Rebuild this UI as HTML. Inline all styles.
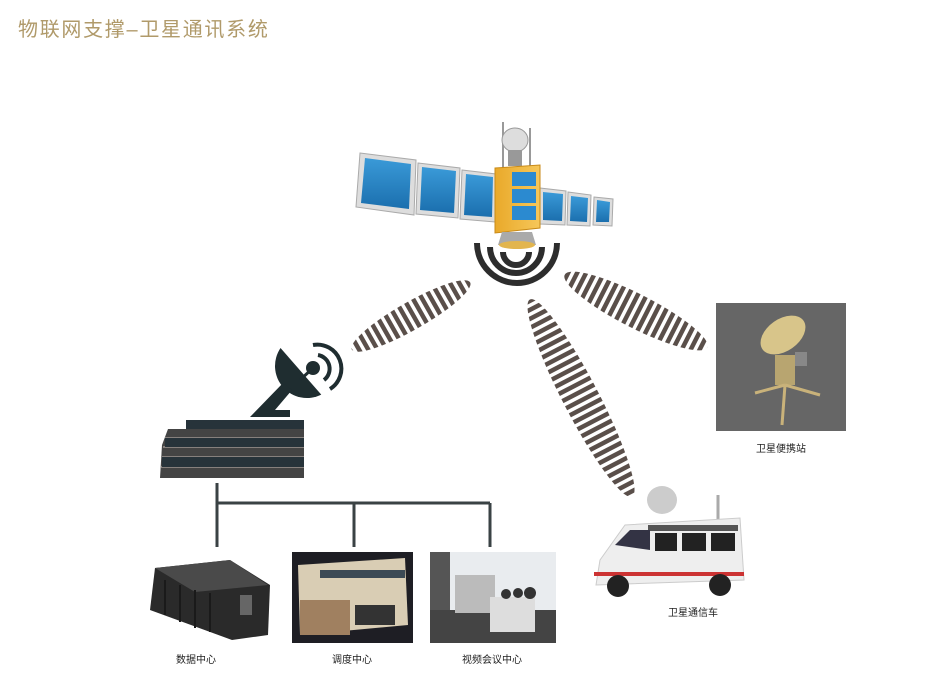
<!DOCTYPE html>
<html><head><meta charset="utf-8"><style>
html,body{margin:0;padding:0;background:#fff;}
body{width:944px;height:680px;position:relative;overflow:hidden;font-family:"Liberation Sans","Noto Sans CJK SC",sans-serif;}
.t{position:absolute;left:18px;top:13px;font-size:20px;color:#b09a6a;letter-spacing:1.7px;font-family:"Liberation Sans","Noto Sans CJK SC",sans-serif;}
.lb{position:absolute;font-size:10px;color:#222;transform:translateX(-50%);white-space:nowrap;}
</style></head><body>
<div class="t">物联网支撑–卫星通讯系统</div>
<svg width="944" height="680" style="position:absolute;left:0;top:0">
<defs>
<pattern id="st" width="8" height="10" patternUnits="userSpaceOnUse"><rect width="4.5" height="10" fill="#5a4f4a"/></pattern>
<linearGradient id="sp" x1="0" y1="0" x2="0" y2="1"><stop offset="0" stop-color="#3a9ad8"/><stop offset="1" stop-color="#1b6fae"/></linearGradient>
<linearGradient id="gd" x1="0" y1="0" x2="1" y2="0"><stop offset="0" stop-color="#e9a92a"/><stop offset="1" stop-color="#f6c75a"/></linearGradient>
</defs>
<!-- beams -->
<g transform="translate(411,316) rotate(-29.6)"><ellipse cx="0" cy="0" rx="68" ry="14" fill="url(#st)"/></g>
<g transform="translate(581,398) rotate(62.6)"><ellipse cx="0" cy="0" rx="111" ry="18" fill="url(#st)"/></g>
<g transform="translate(636,311) rotate(27)"><ellipse cx="0" cy="0" rx="80" ry="17" fill="url(#st)"/></g>
<!-- satellite -->
<line x1="503" y1="122" x2="503" y2="170" stroke="#999" stroke-width="2"/>
<line x1="530" y1="128" x2="530" y2="170" stroke="#999" stroke-width="2"/>
<ellipse cx="515" cy="140" rx="13" ry="12" fill="#ddd" stroke="#999"/>
<rect x="508" y="150" width="14" height="16" fill="#999"/>
<polygon points="360,153 416,160 414,215 356,207" fill="#ddd" stroke="#aaa"/>
<polygon points="365,158 411,164 409,209 361,203" fill="url(#sp)"/>
<polygon points="418,163 460,168 458,218 416,214" fill="#ddd" stroke="#aaa"/>
<polygon points="422,167 456,171 454,213 420,210" fill="url(#sp)"/>
<polygon points="462,170 496,174 495,222 460,219" fill="#ddd" stroke="#aaa"/>
<polygon points="466,174 493,177 492,217 464,215" fill="url(#sp)"/>
<polygon points="540,188 566,191 565,225 540,224" fill="#ddd" stroke="#aaa"/>
<polygon points="543,192 563,194 562,221 543,220" fill="url(#sp)"/>
<polygon points="568,192 591,195 590,226 567,225" fill="#ddd" stroke="#aaa"/>
<polygon points="571,196 588,198 587,222 570,221" fill="url(#sp)"/>
<polygon points="594,197 613,199 612,226 593,225" fill="#ddd" stroke="#aaa"/>
<polygon points="597,200 610,202 609,222 596,222" fill="url(#sp)"/>
<polygon points="495,168 540,165 540,228 495,233" fill="url(#gd)" stroke="#c88a18"/>
<rect x="512" y="172" width="24" height="14" fill="#2b8ad0"/>
<rect x="512" y="189" width="24" height="14" fill="#2b8ad0"/>
<rect x="512" y="206" width="24" height="14" fill="#2b8ad0"/>
<polygon points="502,232 532,232 536,245 498,245" fill="#aaa"/>
<ellipse cx="517" cy="245" rx="18" ry="4" fill="#e2b54e"/>
<!-- arcs -->
<g fill="none" stroke="#2d2d2d" stroke-width="6">
<path d="M503,252 A13,13 0 0 0 529,252"/>
<path d="M490,247 A26,26 0 0 0 542,247"/>
<path d="M477,243 A40,40 0 0 0 557,243"/>
</g>
<!-- ground dish -->
<g fill="#1f2d30">
<path d="M285,345 A32,32 0 0 0 317,398 Z" transform="rotate(-10 300 372)"/>
<polygon points="250,417 283,383 292,390 275,410 290,410 290,417"/>
<circle cx="313" cy="368" r="7"/>
<line x1="300" y1="380" x2="313" y2="368" stroke="#1f2d30" stroke-width="3"/>
</g>
<g fill="none" stroke="#1f2d30" stroke-width="4">
<path d="M318,355 A14,14 0 0 1 324,380"/>
<path d="M313,345 A24,24 0 0 1 330,389"/>
</g>
<!-- building -->
<rect x="186" y="420" width="118" height="9" fill="#27333a"/>
<polygon points="168,429 304,429 304,478 160,478 162,445" fill="#444"/>
<g stroke="#c9bdb6" stroke-width="1"><line x1="165" y1="438" x2="304" y2="438"/><line x1="163" y1="447" x2="304" y2="447"/><line x1="162" y1="457" x2="304" y2="457"/><line x1="161" y1="467" x2="304" y2="467"/></g>
<rect x="165" y="438" width="139" height="9" fill="#27333a"/>
<rect x="162" y="457" width="142" height="10" fill="#27333a"/>
<!-- connectors -->
<g stroke="#3a4244" stroke-width="3" fill="none">
<line x1="217" y1="483" x2="217" y2="547"/>
<line x1="217" y1="503" x2="490" y2="503"/>
<line x1="354" y1="503" x2="354" y2="547"/>
<line x1="490" y1="503" x2="490" y2="547"/>
</g>
<!-- data center -->
<polygon points="155,568 230,560 270,585 268,635 232,640 150,610" fill="#2a2a2a"/>
<polygon points="155,568 230,560 268,585 195,592" fill="#4a4a4a"/>
<g stroke="#1a1a1a" stroke-width="2"><line x1="165" y1="580" x2="165" y2="615"/><line x1="180" y1="585" x2="180" y2="622"/><line x1="195" y1="590" x2="195" y2="628"/><line x1="210" y1="593" x2="210" y2="632"/></g>
<rect x="240" y="595" width="12" height="20" fill="#666"/>
<!-- dispatch -->
<rect x="292" y="552" width="121" height="91" fill="#1e1e24"/>
<polygon points="298,565 405,558 408,625 300,635" fill="#d9cdb4"/>
<rect x="320" y="570" width="85" height="8" fill="#3c4a55"/>
<rect x="300" y="600" width="50" height="35" fill="#a08060"/>
<rect x="355" y="605" width="40" height="20" fill="#333"/>
<!-- video -->
<rect x="430" y="552" width="126" height="91" fill="#e9ecef"/>
<rect x="430" y="552" width="20" height="91" fill="#555"/>
<rect x="430" y="610" width="126" height="33" fill="#444"/>
<rect x="455" y="575" width="40" height="38" fill="#bbb"/>
<rect x="490" y="597" width="45" height="35" fill="#ddd"/>
<circle cx="530" cy="593" r="6" fill="#333"/><circle cx="518" cy="593" r="5" fill="#333"/><circle cx="506" cy="594" r="5" fill="#333"/>
<!-- portable -->
<rect x="716" y="303" width="130" height="128" fill="#666"/>
<ellipse cx="783" cy="335" rx="25" ry="16" fill="#d8c58a" transform="rotate(-35 783 335)"/>
<rect x="775" y="355" width="20" height="30" fill="#b8a570"/>
<rect x="795" y="352" width="12" height="14" fill="#888"/>
<g stroke="#c9b27a" stroke-width="3"><line x1="785" y1="385" x2="782" y2="425"/><line x1="785" y1="385" x2="755" y2="393"/><line x1="785" y1="385" x2="820" y2="395"/></g>
<!-- van -->
<ellipse cx="662" cy="500" rx="15" ry="14" fill="#ccc"/>
<line x1="718" y1="495" x2="718" y2="520" stroke="#aaa" stroke-width="3"/>
<polygon points="600,560 625,525 740,518 744,580 596,585" fill="#eee" stroke="#ccc"/>
<rect x="648" y="525" width="90" height="6" fill="#555"/>
<polygon points="615,545 630,530 650,530 650,550" fill="#334"/>
<rect x="655" y="533" width="22" height="18" fill="#222"/>
<rect x="682" y="533" width="24" height="18" fill="#222"/>
<rect x="711" y="533" width="24" height="18" fill="#222"/>
<rect x="594" y="572" width="150" height="4" fill="#c33"/>
<circle cx="618" cy="586" r="11" fill="#222"/><circle cx="720" cy="585" r="11" fill="#222"/>
</svg>
<div class="lb" style="left:196px;top:651px">数据中心</div>
<div class="lb" style="left:352px;top:651px">调度中心</div>
<div class="lb" style="left:492px;top:651px">视频会议中心</div>
<div class="lb" style="left:693px;top:604px">卫星通信车</div>
<div class="lb" style="left:781px;top:440px">卫星便携站</div>
</body></html>
